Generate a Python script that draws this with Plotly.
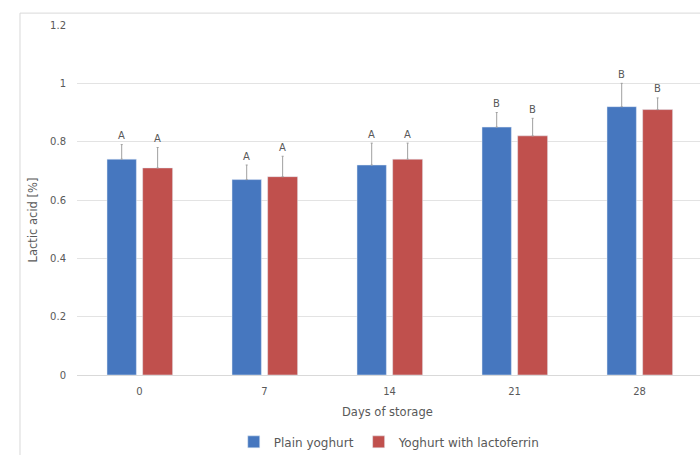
import plotly.graph_objects as go

# Storage days (categories) and lactic acid content (%) per yoghurt type
days = ["0", "7", "14", "21", "28"]
plain = [0.74, 0.67, 0.72, 0.85, 0.92]
plain_err = [0.05, 0.05, 0.075, 0.05, 0.08]
lacto = [0.71, 0.68, 0.74, 0.82, 0.91]
lacto_err = [0.07, 0.07, 0.055, 0.06, 0.04]
plain_letters = ["A", "A", "A", "B", "B"]
lacto_letters = ["A", "A", "A", "B", "B"]
y_ticks = [0, 0.2, 0.4, 0.6, 0.8, 1, 1.2]

BLUE = "#4677BF"
RED = "#C0504D"
TXT = "#595959"
GRID = "#e3e3e3"
FONT = "DejaVu Sans"

fig = go.Figure()
fig.add_trace(go.Bar(
    x=days, y=plain, name="Plain yoghurt", marker_color=BLUE,
    width=0.235, offset=-0.26,
    error_y=dict(type="data", array=plain_err, arrayminus=[0] * len(days),
                 symmetric=False, color="#a0a0a0", thickness=1, width=1),
))
fig.add_trace(go.Bar(
    x=days, y=lacto, name="Yoghurt with lactoferrin", marker_color=RED,
    width=0.24, offset=0.025,
    error_y=dict(type="data", array=lacto_err, arrayminus=[0] * len(days),
                 symmetric=False, color="#a0a0a0", thickness=1, width=1),
))

# significance letters above the error bars
annotations = []
for i, d in enumerate(days):
    annotations.append(dict(x=i - 0.1425, y=plain[i] + plain_err[i], xref="x", yref="y",
                            text=plain_letters[i], showarrow=False, yshift=9,
                            font=dict(size=10, color=TXT, family=FONT)))
    annotations.append(dict(x=i + 0.145, y=lacto[i] + lacto_err[i], xref="x", yref="y",
                            text=lacto_letters[i], showarrow=False, yshift=9,
                            font=dict(size=10, color=TXT, family=FONT)))

annotations.append(dict(x=0.498, y=-0.106, xref="paper", yref="paper",
                        xanchor="center", yanchor="middle",
                        text="Days of storage", showarrow=False,
                        font=dict(size=11.5, color=TXT, family=FONT)))
annotations.append(dict(x=-0.0715, y=0.443, xref="paper", yref="paper",
                        xanchor="center", yanchor="middle",
                        text="Lactic acid [%]", showarrow=False, textangle=-90,
                        font=dict(size=11.5, color=TXT, family=FONT)))

fig.update_layout(
    width=700, height=455,
    margin=dict(l=77, r=0, t=25, b=80, autoexpand=False),
    paper_bgcolor="white", plot_bgcolor="white",
    font=dict(family=FONT, size=10, color=TXT),
    barmode="group",
    showlegend=True,
    legend=dict(orientation="h", x=0.502, xanchor="center", y=-0.191, yanchor="middle",
                font=dict(size=12, color=TXT, family=FONT),
                itemwidth=30, traceorder="normal"),
    annotations=annotations,
    shapes=[
        dict(type="line", xref="paper", yref="paper", x0=-0.0915, x1=1.1,
             y0=1.034, y1=1.034, line=dict(color="#d9d9d9", width=1)),
        dict(type="line", xref="paper", yref="paper", x0=-0.0915, x1=-0.0915,
             y0=1.034, y1=-0.4, line=dict(color="#d9d9d9", width=1)),
    ],
    xaxis=dict(range=[-0.5, 4.484], showgrid=False, showline=True,
               linecolor="#d9d9d9", linewidth=1, ticks="", automargin=False,
               ticklabelstandoff=7,
               tickfont=dict(size=10, color=TXT)),
    yaxis=dict(range=[0, 1.2], tickvals=y_ticks, ticktext=["0", "0.2", "0.4", "0.6", "0.8", "1", "1.2"],
               showgrid=True, gridcolor=GRID, gridwidth=1, zeroline=False, automargin=False,
               showline=False, ticks="", ticklabelstandoff=10,
               tickfont=dict(size=10, color=TXT)),
)

fig.write_html("out.html")
